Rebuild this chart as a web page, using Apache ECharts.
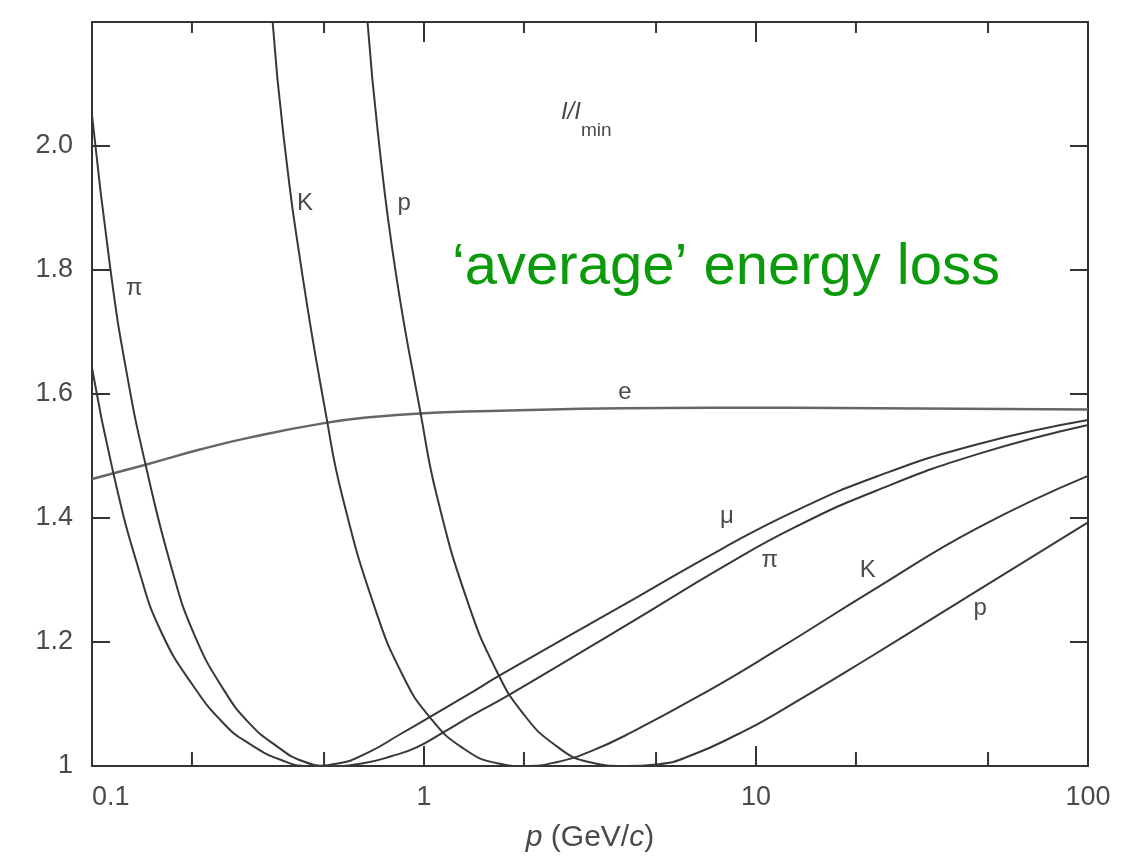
<!DOCTYPE html>
<html><head><meta charset="utf-8">
<script src="https://cdn.jsdelivr.net/npm/echarts@6/dist/echarts.min.js"></script>
<style>html,body{margin:0;padding:0;background:#fff}#c{width:1121px;height:859px}</style>
</head><body><div id="c"></div>
<script>
// ---- data (p in GeV/c, I/Imin) ----
const xTickLabels = ['0.1', '1', '10', '100'];
const yTickLabels = ['1', '1.2', '1.4', '1.6', '1.8', '2.0'];
const minorTicks = [0.2, 0.5, 2, 5, 20, 50];

const electron = [[0.1,1.463],[0.145,1.486],[0.21,1.51],[0.3,1.53],[0.5,1.553],[0.7,1.563],[1,1.569],[1.7,1.573],[4,1.577],[13,1.578],[100,1.575]];
const muon = [[0.1,1.642],[0.116,1.472],[0.139,1.313],[0.162,1.215],[0.202,1.129],[0.253,1.065],[0.3,1.035],[0.37,1.01],[0.45,1.0],[0.55,1.004],[0.68,1.022],[0.84,1.05],[1.04,1.079],[1.405,1.12],[1.69,1.146],[4.31,1.27],[8,1.352],[13.2,1.412],[23.1,1.467],[46.5,1.519],[100,1.558]];
const pion = [[0.1,2.05],[0.1137,1.80],[0.127,1.636],[0.145,1.486],[0.175,1.313],[0.204,1.21],[0.25,1.122],[0.299,1.068],[0.36,1.032],[0.43,1.008],[0.52,1.0],[0.65,1.004],[0.8,1.016],[0.95,1.03],[1.15,1.055],[1.4,1.082],[1.81,1.115],[4.3,1.235],[8,1.322],[13.2,1.386],[23,1.444],[46.5,1.503],[100,1.55]];
const kaon = [[0.35,2.2],[0.377,2.019],[0.43,1.793],[0.507,1.566],[0.567,1.436],[0.711,1.255],[0.867,1.144],[1.04,1.079],[1.3,1.03],[1.675,1.004],[2.0,1.0],[2.5,1.006],[3.2,1.0245],[4.24,1.055],[7,1.118],[11.3,1.184],[22.9,1.286],[46.1,1.383],[100,1.468]];
const proton = [[0.676,2.2],[0.727,2.019],[0.823,1.794],[0.979,1.566],[1.094,1.435],[1.357,1.263],[1.659,1.152],[1.973,1.087],[2.464,1.035],[3.162,1.006],[4.03,1.0],[5.1,1.003],[6.5,1.019],[8.87,1.052],[11.2,1.081],[22.6,1.179],[45.8,1.281],[100,1.393]];

const annotations = [
  {text: 'π', at: [0.134, 1.771]},
  {text: 'K', at: [0.438, 1.908]},
  {text: 'p', at: [0.871, 1.908]},
  {text: 'e', at: [4.03, 1.603]},
  {text: 'μ', at: [8.18, 1.402]},
  {text: 'π', at: [11.0, 1.332]},
  {text: 'K', at: [21.7, 1.316]},
  {text: 'p', at: [47.3, 1.255]}
];
const heading = {text: '{a|I/I}{b|min}', at: [3.08, 2.042]};
const banner = {text: '‘average’ energy loss', at: [8.12, 1.803]};

// ---- chart ----
const FONT = 'Liberation Sans, Arial, sans-serif';
const INK = '#333';
const TXT = '#4a4a4a';
const chart = echarts.init(document.getElementById('c'), null, {renderer: 'canvas'});

const lineSeries = (name, data, color, width) => ({
  name, type: 'line', data, showSymbol: false, symbol: 'none',
  smooth: 0.5, clip: true,
  lineStyle: {color, width}, z: 3, silent: true
});

const labelData = annotations.map(a => ({
  value: a.at,
  label: {formatter: a.text, fontSize: 24, color: TXT, fontFamily: FONT}
}));
labelData.push({
  value: heading.at,
  label: {
    formatter: heading.text,
    rich: {
      a: {fontSize: 24, fontStyle: 'italic', color: TXT, fontFamily: FONT, lineHeight: 24, verticalAlign: 'top'},
      b: {fontSize: 19, color: TXT, fontFamily: FONT, lineHeight: 40, verticalAlign: 'bottom'}
    }
  }
});
labelData.push({
  value: banner.at,
  label: {formatter: banner.text, fontSize: 58, color: '#0a9a0a', fontFamily: FONT}
});

const axisLineStyle = {color: INK, width: 2};

chart.setOption({
  animation: false,
  backgroundColor: '#fff',
  grid: {left: 92, right: 33, top: 22, bottom: 93, containLabel: false, outerBoundsMode: 'none'},
  xAxis: [
    {
      type: 'log', logBase: 10, min: 0.1, max: 100, position: 'bottom',
      axisLine: {show: true, lineStyle: axisLineStyle},
      axisTick: {show: true, inside: true, length: 20, lineStyle: axisLineStyle},
      axisLabel: {
        fontSize: 27, color: TXT, fontFamily: FONT, margin: 18, alignMinLabel: 'left',
        formatter: v => xTickLabels[Math.round(Math.log10(v)) + 1] ?? ''
      },
      splitLine: {show: false}, minorTick: {show: false},
      name: '{i|p} (GeV/{i|c})', nameLocation: 'middle', nameGap: 57,
      nameTextStyle: {
        fontSize: 30, color: TXT, fontFamily: FONT,
        rich: {i: {fontSize: 30, fontStyle: 'italic', color: TXT, fontFamily: FONT}}
      }
    },
    {
      type: 'log', logBase: 10, min: 0.1, max: 100, position: 'top',
      axisLine: {show: true, lineStyle: axisLineStyle},
      axisTick: {show: true, inside: true, length: 20, lineStyle: axisLineStyle},
      axisLabel: {show: false}, splitLine: {show: false}
    }
  ],
  yAxis: [
    {
      type: 'value', min: 1, max: 2.2, interval: 0.2, position: 'left',
      axisLine: {show: true, lineStyle: axisLineStyle},
      axisTick: {show: true, inside: true, length: 18, lineStyle: axisLineStyle},
      axisLabel: {
        fontSize: 27, color: TXT, fontFamily: FONT, margin: 19,
        formatter: v => yTickLabels[Math.round((v - 1) / 0.2)] ?? ''
      },
      splitLine: {show: false}
    },
    {
      type: 'value', min: 1, max: 2.2, interval: 0.2, position: 'right',
      axisLine: {show: true, lineStyle: axisLineStyle},
      axisTick: {show: true, inside: true, length: 18, lineStyle: axisLineStyle},
      axisLabel: {show: false}, splitLine: {show: false}
    }
  ],
  series: [
    lineSeries('e', electron, '#666', 2.5),
    lineSeries('μ', muon, '#383838', 2),
    lineSeries('π', pion, '#383838', 2),
    lineSeries('K', kaon, '#383838', 2),
    lineSeries('p', proton, '#383838', 2),
    {
      type: 'custom', silent: true, z: 4,
      data: minorTicks.map(p => [p, 1]),
      renderItem: (params, api) => {
        const p = api.value(0);
        const b = api.coord([p, 1]);
        const t = api.coord([p, 2.2]);
        const st = {stroke: INK, lineWidth: 2};
        return {type: 'group', children: [
          {type: 'line', shape: {x1: b[0], y1: b[1], x2: b[0], y2: b[1] - 14}, style: st},
          {type: 'line', shape: {x1: t[0], y1: t[1], x2: t[0], y2: t[1] + 11}, style: st}
        ]};
      }
    },
    {
      type: 'scatter', silent: true, z: 5,
      symbolSize: 1, itemStyle: {color: 'rgba(0,0,0,0)', opacity: 1},
      label: {show: true, position: 'inside', opacity: 1},
      data: labelData
    }
  ]
});
</script>
</body></html>
